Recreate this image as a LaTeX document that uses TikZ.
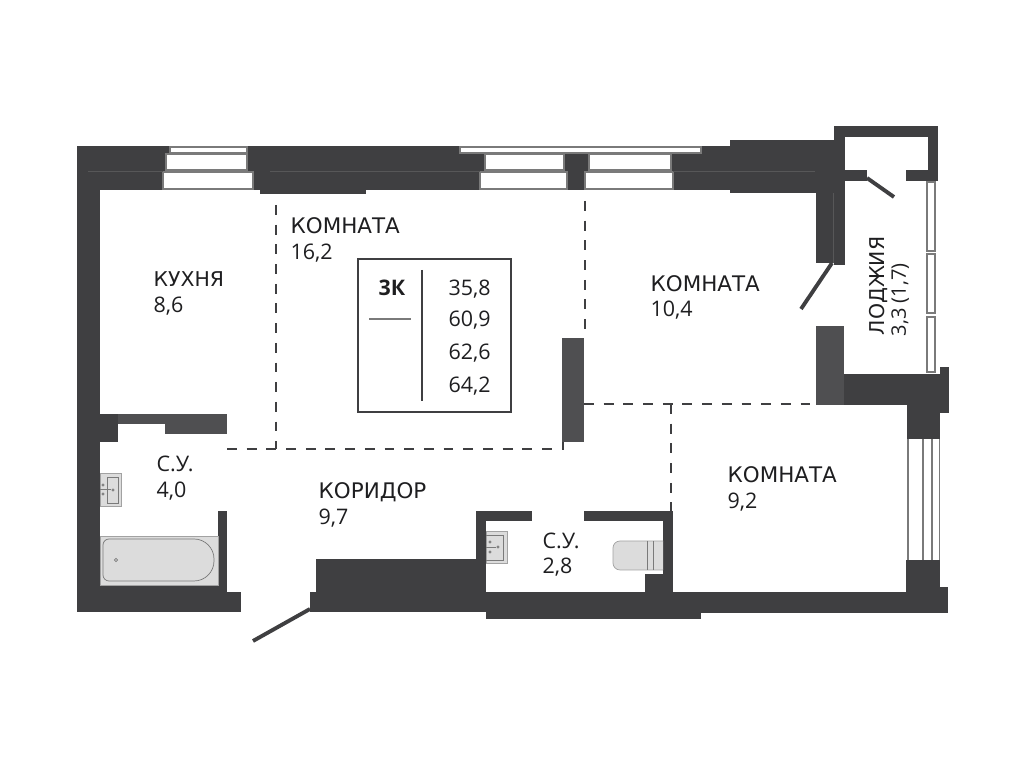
\documentclass[tikz,border=0pt]{standalone}
\usepackage{fontspec}
\setmainfont{DejaVu Sans}
\newfontfamily\valuefont{Open Sans}
\usepackage{tikz}
\usetikzlibrary{positioning}

\definecolor{wallgray}{HTML}{3F3F41}
\definecolor{softgray}{HTML}{4F4F51}
\definecolor{fixgray}{HTML}{DCDCDC}
\definecolor{linegray}{HTML}{7A7A7A}
\definecolor{inkgray}{HTML}{1E1E20}

\begin{document}
\begin{tikzpicture}[
    x=0.01cm, y=-0.01cm,
    wall/.style={fill=wallgray, draw=none},
    softwall/.style={fill=softgray, draw=none},
    pane/.style={fill=white, draw=linegray, line width=0.3pt},
    fixture/.style={fill=fixgray, draw=linegray!70, line width=0.2pt},
    fixline/.style={draw=linegray, line width=0.2pt},
    seam/.style={draw=linegray!40!wallgray, line width=0.12pt},
    doorleaf/.style={draw=wallgray, line width=1.1pt},
    roomline/.style={draw=wallgray, line width=0.36pt, dash pattern=on 2.8pt off 2.8pt},
    room/.style={font=\fontsize{6.1}{6.1}\selectfont, text=inkgray, anchor=base west, inner sep=0pt},
    value/.style={font=\fontsize{6.1}{6.1}\selectfont\valuefont, text=inkgray, anchor=base west, inner sep=0pt}
]
    \useasboundingbox (0,0) rectangle (1023,761);
    % outer walls
    \fill[wall] (77,146) rectangle (100,612);
    \fill[wall] (77,146) rectangle (260,190);
    \fill[wall] (260,146) rectangle (366,194);
    \fill[wall] (366,146) rectangle (730,190);
    \fill[wall] (730,140) rectangle (834,193);
    \fill[wall] (77,585) rectangle (227,612);
    \fill[wall] (227,592) rectangle (241,612);
    % kitchen panes
    \draw[pane] (170,147) rectangle (247,153);
    \draw[pane] (166,154) rectangle (247,170);
    \draw[pane] (163,172) rectangle (253,189);
    % room panes
    \draw[pane] (460,147) rectangle (701,153);
    \draw[pane] (485,154) rectangle (564,170);
    \draw[pane] (589,154) rectangle (671,170);
    \draw[pane] (480,172) rectangle (567,189);
    \draw[pane] (585,172) rectangle (673,189);
    \draw[seam] (88,171.5) -- (163,171.5) (270,171.5) -- (480,171.5) (673,171.5) -- (815,171.5);
    % loggia and inner walls
    \fill[wall] (834,126) rectangle (845,265);
    \fill[wall] (816,193) rectangle (845,263);
    \fill[wall] (834,126) rectangle (938,137);
    \fill[wall] (928,126) rectangle (938,181);
    \fill[wall] (906,170) rectangle (938,181);
    \fill[wall] (845,170) rectangle (867,181);
    \draw[seam] (833,193) -- (833,263);
    \fill[softwall] (816,326) rectangle (844,405);
    \fill[wall] (844,374) rectangle (940,405);
    \fill[wall] (907,405) rectangle (940,439);
    \fill[wall] (940,367) rectangle (949,413);
    \fill[wall] (906,560) rectangle (940,613);
    \fill[wall] (940,587) rectangle (948,613);
    \fill[wall] (673,592) rectangle (906,613);
    \fill[softwall] (562,338) rectangle (584,442);
    \fill[wall] (99,414) rectangle (118,442);
    \fill[softwall] (118,414) rectangle (227,424);
    \fill[softwall] (165,424) rectangle (227,434);
    \fill[wall] (218,511) rectangle (227,592);
    \fill[wall] (310,592) rectangle (316,612);
    \fill[wall] (316,559) rectangle (486,612);
    \fill[wall] (486,592) rectangle (701,619);
    \fill[wall] (476,511) rectangle (532,521);
    \fill[wall] (476,511) rectangle (486,559);
    \fill[wall] (584,511) rectangle (673,521);
    \fill[wall] (663,511) rectangle (673,592);
    \fill[wall] (645,574) rectangle (663,592);
    % loggia and east windows
    \draw[pane] (927,182) rectangle (935,251);
    \draw[pane] (927,254) rectangle (935,313);
    \draw[pane] (927,317) rectangle (935,372);
    \draw[linegray, line width=0.35pt] (908,439) -- (908,560);
    \draw[linegray, line width=0.35pt] (923,439) -- (923,560);
    \draw[linegray, line width=0.35pt] (932,439) -- (932,560);
    \draw[linegray, line width=0.35pt] (939.5,439) -- (939.5,560);
    % doors
    \coordinate (loggiahinge) at (867,178);
    \coordinate (loggiaend) at (894,197);
    \coordinate (roomhinge) at (832,263);
    \coordinate (roomend) at (801,309);
    \coordinate (entryhinge) at (310,609);
    \coordinate (entryend) at (253,641);
    \draw[doorleaf] (loggiahinge) -- (loggiaend);
    \draw[doorleaf] (roomhinge) -- (roomend);
    \draw[doorleaf] (entryhinge) -- (entryend);
    % room borders
    \draw[roomline] (276,205) -- (276,449);
    \draw[roomline] (227,449) -- (563,449) -- (563,442);
    \draw[roomline] (585,201) -- (585,338);
    \draw[roomline] (584,404) -- (816,404);
    \draw[roomline] (671,404) -- (671,511);
    % bath
    \draw[fixture] (100,536) rectangle (218,585);
    \draw[fixline, rounded corners=0.2cm] (150,539) -- (214,539) -- (214,581) -- (150,581)
        [rounded corners=0.06cm] -- (103,581) -- (103,539) -- cycle;
    \draw[fixline] (116,560) circle[radius=1.6];
    % sinks
    \draw[fixture] (100,473) rectangle (121,506);
    \draw[fixline] (107,477) rectangle (118,503);
    \draw[fixline] (103,485) circle[radius=1.2] (103,494) circle[radius=1.2] (113,490) circle[radius=1.2];
    \draw[fixline] (100,489.5) -- (111,489.5);
    \draw[fixture] (486,531) rectangle (507,563);
    \draw[fixline] (486,535) -- (503,535) -- (503,560) -- (486,560);
    \draw[fixline] (490,542) circle[radius=1.2] (490,552) circle[radius=1.2] (498,547) circle[radius=1.2];
    \draw[fixline] (486,547) -- (496,547);
    % toilet
    \draw[fixture, rounded corners=0.07cm] (663,541) -- (613,541) -- (613,570) -- (663,570);
    \draw[fixline] (647,541) -- (647,570) (653,541) -- (653,570);
    % legend box
    \node[draw=wallgray, line width=0.4pt, minimum width=1.53cm, minimum height=1.53cm, inner sep=0pt] (legendbox) at (434.5,335.5) {};
    \draw[wallgray, line width=0.4pt] (422,270) -- (422,401);
    \draw[linegray, line width=0.4pt] (369,319) -- (411,319);
    \node[value, font=\fontsize{6.1}{6.1}\selectfont\valuefont\bfseries] (flat) at (378,296) {3К};
    \node[value] (areaa) at (448,296) {35,8};
    \node[value] (areab) at (448,327) {60,9};
    \node[value] (areac) at (448,360) {62,6};
    \node[value] (aread) at (448,393) {64,2};
    % rooms
    \node[room] (livea) at (290,234) {КОМНАТА};
    \node[value] (liveavalue) at (290,260) {16,2};
    \node[room, font=\fontsize{5.8}{5.8}\selectfont] (kitchen) at (153,287) {КУХНЯ};
    \node[value] (kitchenvalue) at (153,313) {8,6};
    \node[room] (liveb) at (650,292) {КОМНАТА};
    \node[value] (livebvalue) at (650,317) {10,4};
    \node[room] (livec) at (727,483) {КОМНАТА};
    \node[value] (livecvalue) at (727,509) {9,2};
    \node[value] (batha) at (156,472) {С.У.};
    \node[value] (bathavalue) at (156,498) {4,0};
    \node[room] (hall) at (318,499) {КОРИДОР};
    \node[value] (hallvalue) at (318,525) {9,7};
    \node[value] (bathb) at (542,549) {С.У.};
    \node[value] (bathbvalue) at (542,574) {2,8};
    \node[room, rotate=90, font=\fontsize{5.8}{5.8}\selectfont] (loggia) at (884,336) {ЛОДЖИЯ};
    \node[value, rotate=90, font=\fontsize{5.7}{5.7}\selectfont\valuefont] (loggiavalue) at (906,337) {3,3 (1,7)};
\end{tikzpicture}
\end{document}
